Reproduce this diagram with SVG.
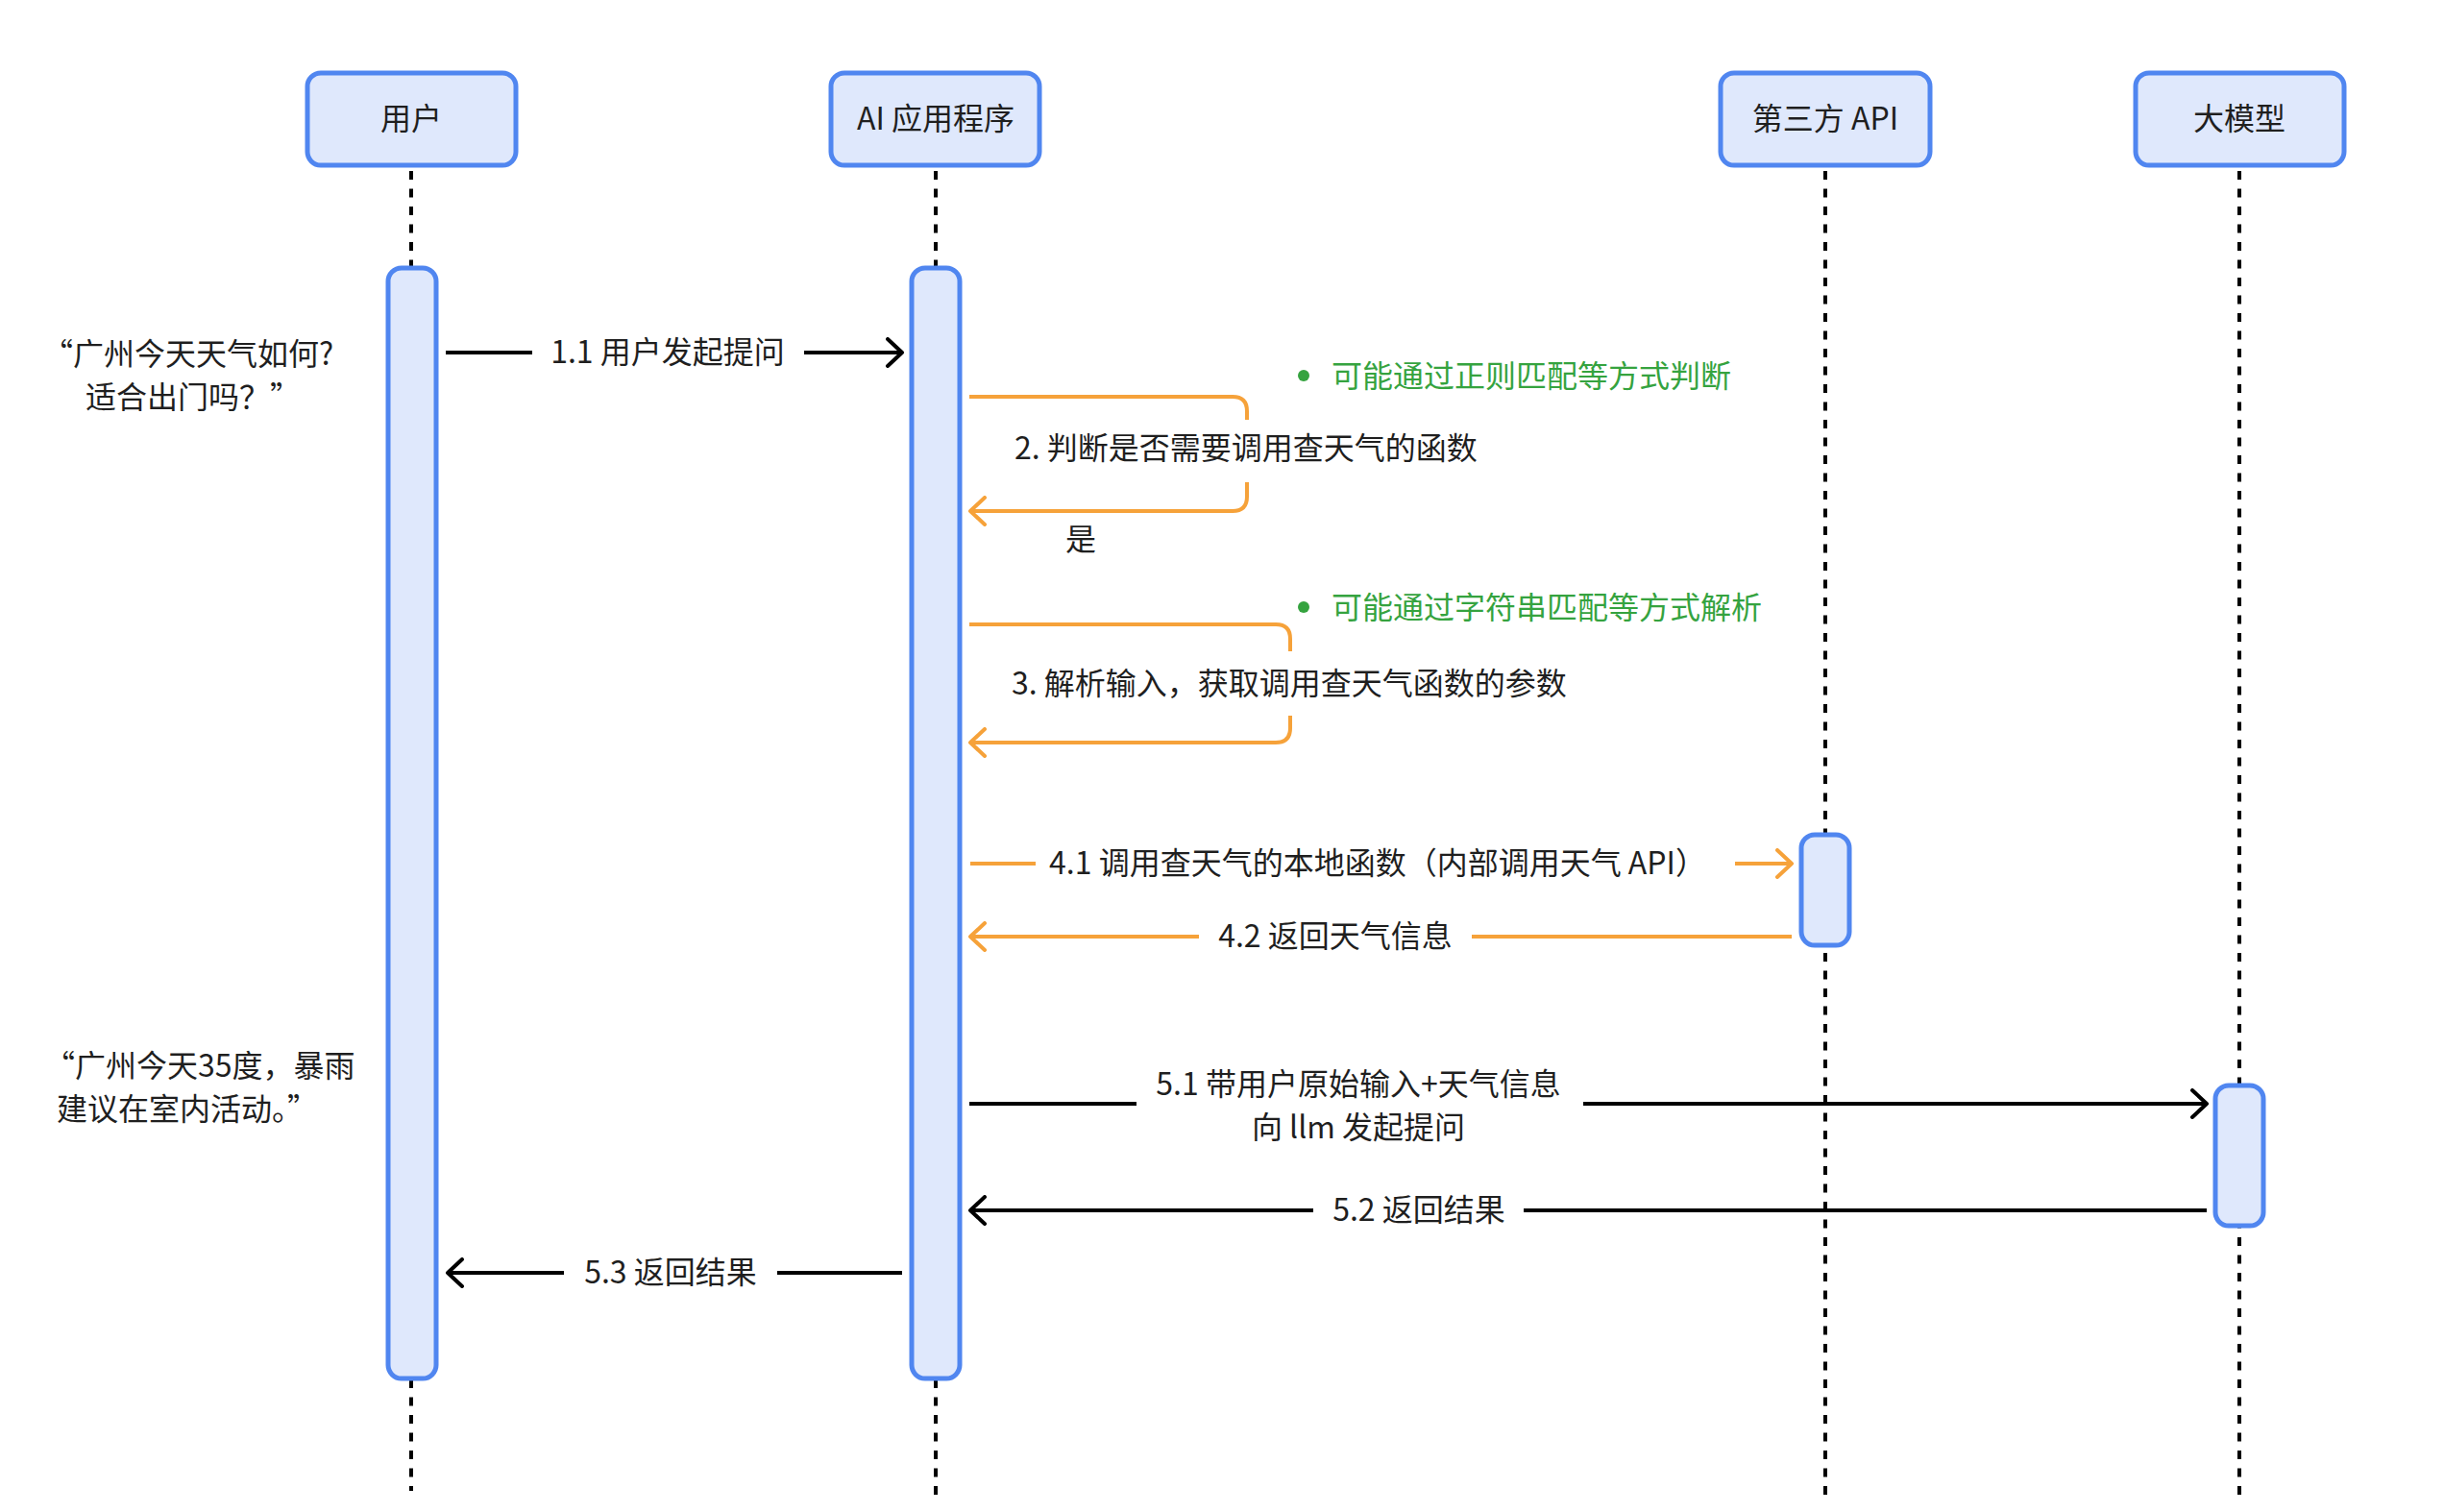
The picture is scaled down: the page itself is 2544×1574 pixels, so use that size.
<svg xmlns="http://www.w3.org/2000/svg" width="2544" height="1574" viewBox="0 0 2544 1574">
<defs>
<style>
.box{fill:#dfe8fc;stroke:#5086f0;stroke-width:5}
.life{stroke:#000;stroke-width:4;stroke-dasharray:9 9.5;fill:none}
.t{font-family:"Noto Sans CJK SC","Noto Sans",sans-serif;font-size:32px;fill:#1f1f1f}
.c{text-anchor:middle;dominant-baseline:central}
.s{dominant-baseline:central}
.g{fill:#35a33f}
.bk{stroke:#000;stroke-width:4;fill:none}
.or{stroke:#f6a23a;stroke-width:4;fill:none}
</style>
<marker id="ab" viewBox="0 0 22 32" refX="18" refY="16" markerWidth="22" markerHeight="32" markerUnits="userSpaceOnUse" orient="auto">
<path d="M3,2 L18,16 L3,30" fill="none" stroke="#000" stroke-width="4" stroke-linecap="round" stroke-linejoin="round"/>
</marker>
<marker id="ao" viewBox="0 0 22 32" refX="18" refY="16" markerWidth="22" markerHeight="32" markerUnits="userSpaceOnUse" orient="auto">
<path d="M3,2 L18,16 L3,30" fill="none" stroke="#f6a23a" stroke-width="4" stroke-linecap="round" stroke-linejoin="round"/>
</marker>
</defs>
<rect width="2544" height="1574" fill="#fff"/>

<g id="lifelines">
<line class="life" x1="428" y1="178" x2="428" y2="1552"/>
<line class="life" x1="974" y1="178" x2="974" y2="1557"/>
<line class="life" x1="1900" y1="178" x2="1900" y2="1557"/>
<line class="life" x1="2331" y1="178" x2="2331" y2="1557"/>
</g>

<g id="node-user">
<rect class="box" x="320" y="76" width="217" height="96" rx="14"/>
<text class="t c" x="428" y="121">用户</text>
<rect class="box" x="404" y="279" width="50" height="1156" rx="14"/>
</g>
<g id="node-app">
<rect class="box" x="865" y="76" width="217" height="96" rx="14"/>
<text class="t c" x="974" y="121">AI 应用程序</text>
<rect class="box" x="949" y="279" width="50" height="1156" rx="14"/>
</g>
<g id="node-api">
<rect class="box" x="1791" y="76" width="218" height="96" rx="14"/>
<text class="t c" x="1900" y="121">第三方 API</text>
<rect class="box" x="1875" y="869" width="50" height="115" rx="14"/>
</g>
<g id="node-llm">
<rect class="box" x="2223" y="76" width="217" height="96" rx="14"/>
<text class="t c" x="2331" y="121">大模型</text>
<rect class="box" x="2306" y="1130" width="50" height="146" rx="14"/>
</g>

<g id="notes">
<text class="t s" x="44" y="366">“广州今天天气如何?</text>
<text class="t s" x="89" y="411">适合出门吗？”</text>
<text class="t s" x="46" y="1107">“广州今天35度，暴雨</text>
<text class="t s" x="59" y="1152">建议在室内活动。”</text>
<circle cx="1357" cy="391" r="6" fill="#35a33f"/>
<text class="t s g" x="1386" y="389">可能通过正则匹配等方式判断</text>
<circle cx="1357" cy="632" r="6" fill="#35a33f"/>
<text class="t s g" x="1386" y="630">可能通过字符串匹配等方式解析</text>
</g>

<g id="connectors">
<!-- 1.1 -->
<line class="bk" x1="464" y1="367" x2="554" y2="367"/>
<line class="bk" x1="837" y1="367" x2="939" y2="367" marker-end="url(#ab)"/>
<text class="t c" x="695" y="364">1.1 用户发起提问</text>
<!-- 2 -->
<path class="or" d="M1009,413 H1283 Q1298,413 1298,428 V437"/>
<path class="or" d="M1298,502 V517 Q1298,532 1283,532 H1010" marker-end="url(#ao)"/>
<text class="t s" x="1056" y="464">2. 判断是否需要调用查天气的函数</text>
<text class="t c" x="1125" y="559">是</text>
<!-- 3 -->
<path class="or" d="M1009,650 H1328 Q1343,650 1343,665 V678"/>
<path class="or" d="M1343,745 V758 Q1343,773 1328,773 H1010" marker-end="url(#ao)"/>
<text class="t s" x="1053" y="709">3. 解析输入，获取调用查天气函数的参数</text>
<!-- 4.1 -->
<line class="or" x1="1010" y1="899" x2="1078" y2="899"/>
<line class="or" x1="1806" y1="899" x2="1865" y2="899" marker-end="url(#ao)"/>
<text class="t c" x="1434" y="896">4.1 调用查天气的本地函数（内部调用天气 API）</text>
<!-- 4.2 -->
<line class="or" x1="1865" y1="975" x2="1532" y2="975"/>
<line class="or" x1="1248" y1="975" x2="1010" y2="975" marker-end="url(#ao)"/>
<text class="t c" x="1390" y="972">4.2 返回天气信息</text>
<!-- 5.1 -->
<line class="bk" x1="1009" y1="1149" x2="1183" y2="1149"/>
<line class="bk" x1="1648" y1="1149" x2="2297" y2="1149" marker-end="url(#ab)"/>
<text class="t c" x="1414" y="1126">5.1 带用户原始输入+天气信息</text>
<text class="t c" x="1414" y="1171">向 llm 发起提问</text>
<!-- 5.2 -->
<line class="bk" x1="2297" y1="1260" x2="1586" y2="1260"/>
<line class="bk" x1="1367" y1="1260" x2="1010" y2="1260" marker-end="url(#ab)"/>
<text class="t c" x="1477" y="1257">5.2 返回结果</text>
<!-- 5.3 -->
<line class="bk" x1="939" y1="1325" x2="809" y2="1325"/>
<line class="bk" x1="587" y1="1325" x2="466" y2="1325" marker-end="url(#ab)"/>
<text class="t c" x="698" y="1322">5.3 返回结果</text>
</g>
</svg>
